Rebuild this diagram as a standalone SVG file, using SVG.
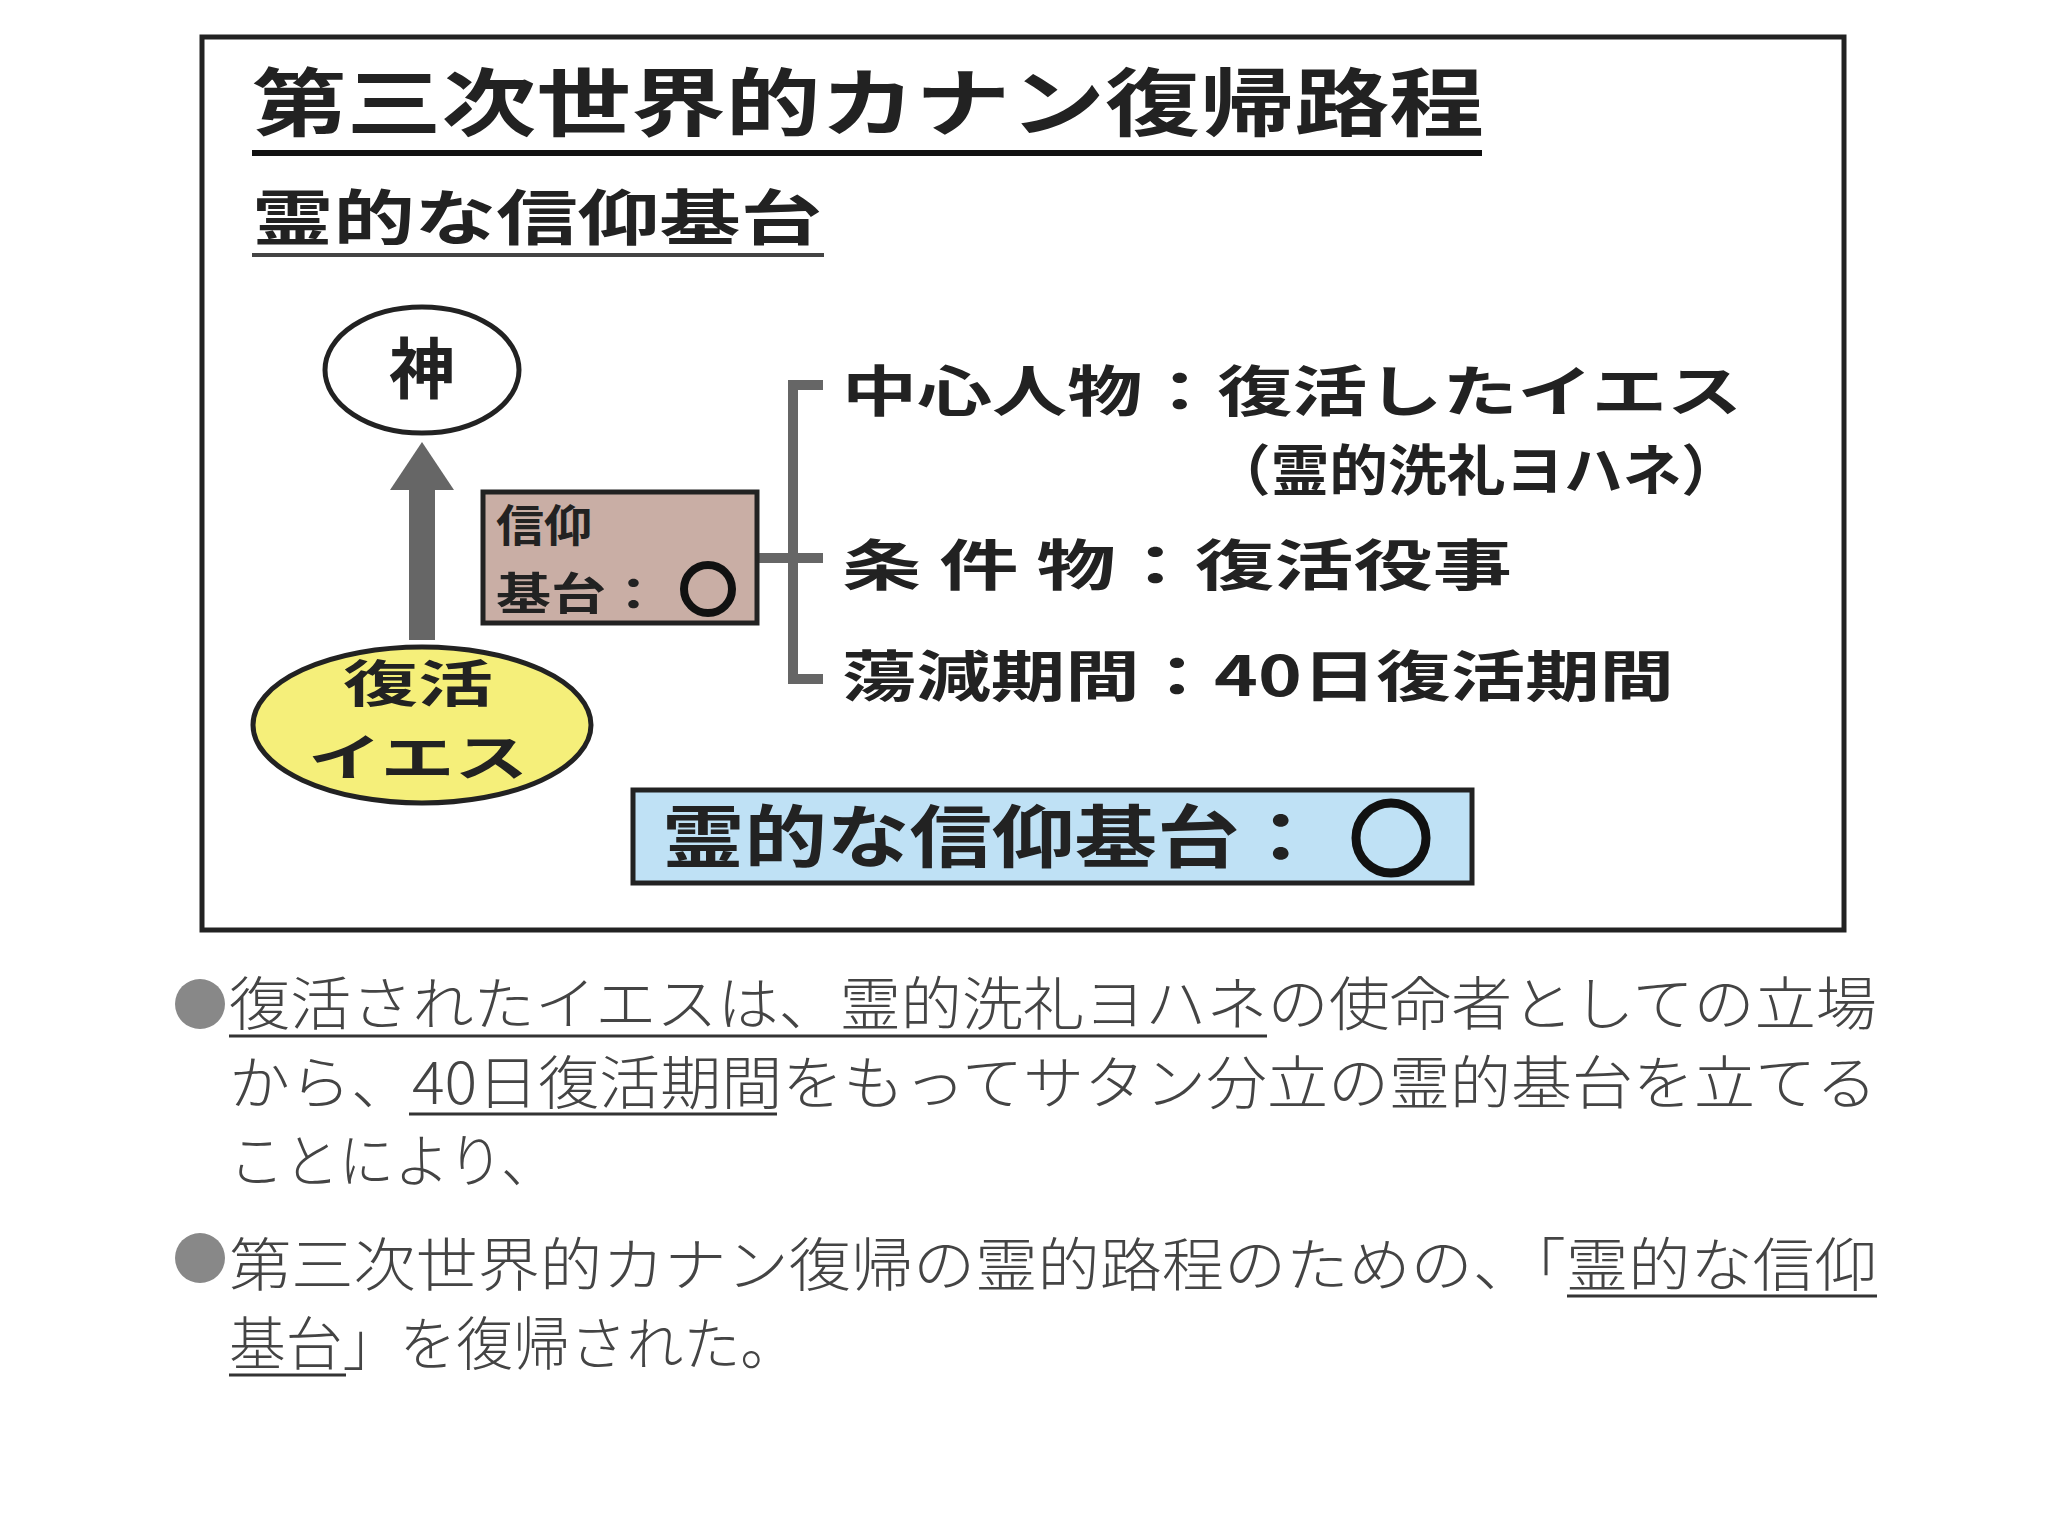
<svg xmlns="http://www.w3.org/2000/svg" width="2048" height="1536" viewBox="0 0 2048 1536">
<style>
.b{font-family:"Noto Sans CJK JP","Noto Sans",sans-serif;font-weight:700;fill:#222}
.t{font-family:"Noto Sans CJK JP","Noto Sans",sans-serif;font-weight:300;fill:#444;font-size:58px}
.u{stroke:#333;stroke-width:3}
</style>
<rect width="2048" height="1536" fill="#fff"/>
<rect x="202" y="37" width="1642" height="893" fill="none" stroke="#222" stroke-width="5"/>
<g id="title"><text class="b" x="252" y="130" font-size="74" textLength="1232" lengthAdjust="spacingAndGlyphs">第三次世界的カナン復帰路程</text>
<line x1="252" y1="153" x2="1482" y2="153" stroke="#111" stroke-width="6"/></g>
<g id="subtitle"><text class="b" x="252" y="240" font-size="60" textLength="570" lengthAdjust="spacingAndGlyphs">霊的な信仰基台</text>
<line x1="252" y1="255" x2="824" y2="255" stroke="#444" stroke-width="4"/></g>
<g id="connectors">
<line x1="422" y1="640" x2="422" y2="486" stroke="#666" stroke-width="26"/>
<polygon points="422,442 390,490 454,490" fill="#666"/>
<path d="M823,385 H793 V679 H823 M757,558 H823" fill="none" stroke="#666" stroke-width="10"/>
</g>
<g id="god"><ellipse cx="422" cy="370" rx="97" ry="63" fill="#fff" stroke="#222" stroke-width="5"/>
<text class="b" x="422" y="393" font-size="66" text-anchor="middle">神</text></g>
<g id="jesus"><ellipse cx="422" cy="725" rx="169" ry="78" fill="#f5ef7a" stroke="#222" stroke-width="5"/>
<text class="b" x="418" y="702" font-size="50" text-anchor="middle" textLength="150" lengthAdjust="spacingAndGlyphs">復活</text>
<text class="b" x="418" y="776" font-size="50" text-anchor="middle" textLength="220" lengthAdjust="spacingAndGlyphs">イエス</text></g>
<g id="foundation"><rect x="483" y="492" width="274" height="131" fill="#c9aea5" stroke="#222" stroke-width="5"/>
<text class="b" x="496" y="542" font-size="44" fill="#333" textLength="96" lengthAdjust="spacingAndGlyphs">信仰</text>
<text class="b" x="496" y="610" font-size="44" textLength="165" lengthAdjust="spacingAndGlyphs">基台：</text>
<circle cx="708" cy="589" r="24" fill="none" stroke="#111" stroke-width="8"/></g>
<g id="items">
<text class="b" x="842" y="411" font-size="55" textLength="900" lengthAdjust="spacingAndGlyphs">中心人物：復活したイエス</text>
<text class="b" x="1212" y="490" font-size="55" textLength="528" lengthAdjust="spacingAndGlyphs">（霊的洗礼ヨハネ）</text>
<text class="b" x="842" y="585" font-size="55" textLength="670" lengthAdjust="spacingAndGlyphs">条 件 物：復活役事</text>
<text class="b" x="842" y="696" font-size="55" textLength="832" lengthAdjust="spacingAndGlyphs">蕩減期間：40日復活期間</text>
</g>
<g id="result"><rect x="633" y="790" width="839" height="93" fill="#bfe1f5" stroke="#222" stroke-width="5"/>
<text class="b" x="662" y="862" font-size="68" textLength="660" lengthAdjust="spacingAndGlyphs">霊的な信仰基台：</text>
<circle cx="1391" cy="838" r="35" fill="none" stroke="#111" stroke-width="9"/></g>
<g id="bullets">
<circle cx="200" cy="1004" r="25" fill="#888"/>
<circle cx="200" cy="1258" r="25" fill="#888"/>
<text class="t" x="229" y="1025" textLength="1648" lengthAdjust="spacingAndGlyphs">復活されたイエスは、霊的洗礼ヨハネの使命者としての立場</text>
<text class="t" x="229" y="1104" textLength="1648" lengthAdjust="spacingAndGlyphs">から、40日復活期間をもってサタン分立の霊的基台を立てる</text>
<text class="t" x="229" y="1182" textLength="327" lengthAdjust="spacingAndGlyphs">ことにより、</text>
<text class="t" x="229" y="1286" textLength="1648" lengthAdjust="spacingAndGlyphs">第三次世界的カナン復帰の霊的路程のための、「霊的な信仰</text>
<text class="t" x="229" y="1365" textLength="568" lengthAdjust="spacingAndGlyphs">基台」を復帰された。</text>
<line class="u" x1="229" y1="1036" x2="1267" y2="1036"/>
<line class="u" x1="409" y1="1114" x2="777" y2="1114"/>
<line class="u" x1="1567" y1="1296" x2="1877" y2="1296"/>
<line class="u" x1="229" y1="1375" x2="346" y2="1375"/>
</g>
</svg>
